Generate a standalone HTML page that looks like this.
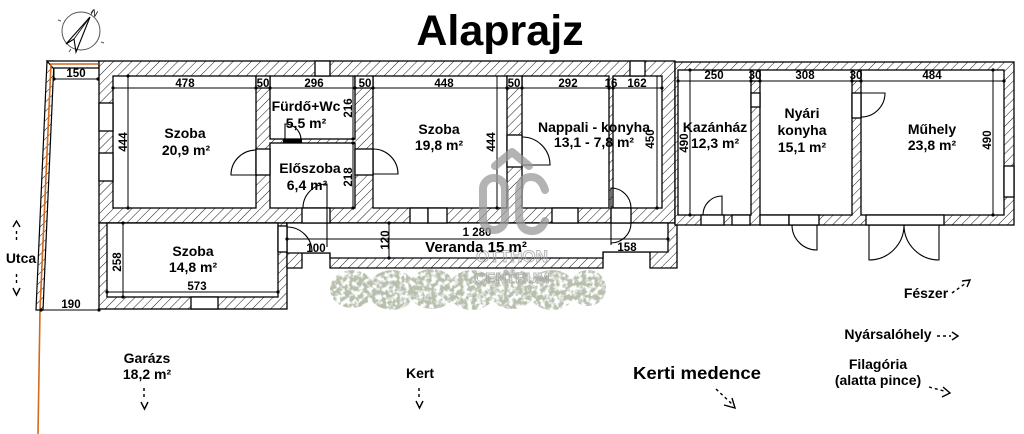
<!DOCTYPE html>
<html><head><meta charset="utf-8"><style>
html,body{margin:0;padding:0;background:#fff;}
svg{display:block;}
text{font-family:"Liberation Sans",sans-serif;font-weight:bold;fill:#000;}
</style></head><body>
<svg width="1024" height="434" viewBox="0 0 1024 434" xmlns="http://www.w3.org/2000/svg">
<defs>
<pattern id="h" patternUnits="userSpaceOnUse" width="6.5" height="6.5" patternTransform="rotate(45)">
<rect width="6.5" height="6.5" fill="#fff"/>
<line x1="0" y1="0" x2="0" y2="6.5" stroke="#000" stroke-width="0.9"/>
</pattern>
<filter id="bf" filterUnits="userSpaceOnUse" x="320" y="260" width="300" height="60">
<feTurbulence type="fractalNoise" baseFrequency="0.22" numOctaves="2" seed="4" result="n"/>
<feColorMatrix in="n" type="matrix" values="0 0 0 0 0.47  0 0 0 0 0.52  0 0 0 0 0.42  4.5 0 0 0 -1.6" result="c"/>
<feComposite in="c" in2="SourceGraphic" operator="in"/>
</filter>
</defs>

<!-- Title -->
<text x="500" y="45" font-size="43" text-anchor="middle">Alaprajz</text>

<!-- Compass -->
<g stroke="#555" stroke-width="1" fill="none">
<circle cx="81" cy="31" r="19"/>
<line x1="61" y1="21" x2="58" y2="20"/>
<line x1="101" y1="42" x2="104" y2="43"/>
<line x1="71" y1="49" x2="69" y2="52"/>
<line x1="91" y1="13" x2="93" y2="10"/>
</g>
<polygon points="90,17 66,44 74,39 76,52" fill="none" stroke="#000" stroke-width="1.1"/>
<line x1="90" y1="17" x2="74" y2="39" stroke="#000" stroke-width="0.8"/>
<text x="0" y="0" font-size="9" transform="translate(90,14) rotate(30)" style="font-weight:normal">N</text>

<!-- Garage walls -->
<polygon points="47,61 54,61 43,310 36,310" fill="url(#h)" stroke="#000" stroke-width="1.2"/>
<polygon points="47,61 99,61 99,68 53,68" fill="#fff" stroke="#000" stroke-width="1.2"/>
<polyline points="98,64 51,64 40,310 38,434" fill="none" stroke="#d2691e" stroke-width="1.6"/>

<!-- Main house wall mass -->
<rect x="99" y="61" width="576" height="162" fill="url(#h)" stroke="#000" stroke-width="1.3"/>
<rect x="99" y="223" width="188" height="86" fill="url(#h)" stroke="#000" stroke-width="1.3"/>
<polygon points="287,223 677,223 677,268 650,268 650,252 603,252 603,268 330,268 330,253 302,253 302,268 287,268" fill="url(#h)" stroke="#000" stroke-width="1.3"/>
<!-- Second building -->
<rect x="675" y="62" width="339" height="163" fill="url(#h)" stroke="#000" stroke-width="1.3"/>

<!-- Rooms -->
<g fill="#fff" stroke="#000" stroke-width="1.3">
<rect x="113" y="76" width="143" height="132"/>
<rect x="270" y="76" width="85" height="63"/>
<rect x="270" y="143" width="85" height="65"/>
<rect x="373" y="76" width="134" height="132"/>
<rect x="522" y="76" width="87" height="132"/>
<rect x="613" y="76" width="49" height="132"/>
<rect x="107" y="223" width="171" height="74"/>
<polygon points="287,223 668,223 668,252 603,252 603,258 330,258 330,253 302,253 287,253"/>
<rect x="678" y="70" width="73" height="145"/>
<rect x="760" y="70" width="92" height="145"/>
<rect x="861" y="70" width="143" height="145"/>
<rect x="256" y="76" width="14" height="12"/>
<rect x="355" y="76" width="18" height="12"/>
<rect x="507" y="76" width="15" height="12"/>
<rect x="751" y="70" width="9" height="11"/>
<rect x="852" y="70" width="9" height="11"/>
<rect x="99" y="103" width="14" height="28"/>
<rect x="99" y="153" width="14" height="28"/>
<rect x="315" y="61" width="15" height="15"/>
<rect x="630" y="61" width="15" height="15"/>
<rect x="256" y="149" width="14" height="26"/>
<rect x="355" y="149" width="18" height="26"/>
<rect x="507" y="135" width="15" height="32"/>
<rect x="302" y="208" width="28" height="15"/>
<rect x="410" y="208" width="18" height="15"/>
<rect x="428" y="208" width="19" height="15"/>
<rect x="552" y="208" width="26" height="15"/>
<rect x="611" y="208" width="20" height="15"/>
<rect x="278" y="226" width="9" height="26"/>
<rect x="191" y="297" width="27" height="12"/>
<rect x="701" y="215" width="23" height="10"/>
<rect x="732" y="215" width="18" height="10"/>
<rect x="751" y="93" width="9" height="14"/>
<rect x="760" y="215" width="29" height="10"/>
<rect x="789" y="215" width="30" height="10"/>
<rect x="852" y="93" width="9" height="25"/>
<rect x="866" y="215" width="78" height="10"/>
<rect x="1004" y="166" width="10" height="31"/>
</g>
<rect x="283" y="139" width="19" height="4" fill="#000"/>

<!-- Door swings -->
<g fill="none" stroke="#000" stroke-width="1.1">
<path d="M256,150 A25,25 0 0 0 231,175 L256,175"/>
<path d="M285,139 L285,124 A16,16 0 0 1 301,139"/>
<path d="M303,208 A24,24 0 0 1 327,184 L327,247"/>
<path d="M373,149 A25,25 0 0 1 398,174 L373,174"/>
<path d="M522,137 A28,28 0 0 1 550,165 L522,165"/>
<path d="M611,245 L611,188 A20,20 0 0 1 631,208"/>
<path d="M631,223 A20,20 0 0 1 611,243"/>
<path d="M287,227 A25,25 0 0 1 312,252"/>
<path d="M703,215 A19,19 0 0 1 722,196 L722,215"/>
<path d="M817,225 L817,250 A25,25 0 0 1 792,225"/>
<path d="M861,93 L885,93 A24,24 0 0 1 861,117"/>
<path d="M869,225 L869,260 A35,35 0 0 0 904,225"/>
<path d="M939,225 L939,260 A35,35 0 0 1 904,225"/>
</g>

<!-- Dimension lines -->
<g stroke="#000" stroke-width="1" fill="none">
<line x1="113" y1="88" x2="662" y2="88"/>
<line x1="678" y1="81" x2="1004" y2="81"/>
<line x1="54" y1="79" x2="98" y2="79"/>
<line x1="54" y1="68" x2="54" y2="79"/>
<line x1="41" y1="310" x2="99" y2="310"/>
<line x1="128" y1="76" x2="128" y2="208"/>
<line x1="353" y1="76" x2="353" y2="139"/>
<line x1="353" y1="143" x2="353" y2="208"/>
<line x1="497" y1="76" x2="497" y2="208"/>
<line x1="657" y1="76" x2="657" y2="208"/>
<line x1="690" y1="70" x2="690" y2="215"/>
<line x1="993" y1="70" x2="993" y2="215"/>
<line x1="123" y1="223" x2="123" y2="297"/>
<line x1="107" y1="292" x2="278" y2="292"/>
<line x1="389" y1="223" x2="389" y2="258"/>
<line x1="287" y1="239" x2="668" y2="239"/>
</g>
<g fill="#000">
<circle cx="113" cy="88" r="1.6"/><circle cx="256" cy="88" r="1.6"/><circle cx="270" cy="88" r="1.6"/>
<circle cx="355" cy="88" r="1.6"/><circle cx="373" cy="88" r="1.6"/><circle cx="507" cy="88" r="1.6"/>
<circle cx="522" cy="88" r="1.6"/><circle cx="609" cy="88" r="1.6"/><circle cx="613" cy="88" r="1.6"/>
<circle cx="662" cy="88" r="1.6"/>
<circle cx="678" cy="81" r="1.6"/><circle cx="751" cy="81" r="1.6"/><circle cx="760" cy="81" r="1.6"/>
<circle cx="852" cy="81" r="1.6"/><circle cx="861" cy="81" r="1.6"/><circle cx="1004" cy="81" r="1.6"/>
<circle cx="54" cy="79" r="1.6"/><circle cx="98" cy="79" r="1.6"/>
<circle cx="41" cy="310" r="1.6"/><circle cx="99" cy="310" r="1.6"/>
<circle cx="128" cy="76" r="1.6"/><circle cx="128" cy="208" r="1.6"/>
<circle cx="353" cy="139" r="1.6"/><circle cx="353" cy="143" r="1.6"/><circle cx="353" cy="208" r="1.6"/>
<circle cx="497" cy="208" r="1.6"/><circle cx="657" cy="208" r="1.6"/>
<circle cx="690" cy="70" r="1.6"/><circle cx="690" cy="215" r="1.6"/>
<circle cx="993" cy="70" r="1.6"/><circle cx="993" cy="215" r="1.6"/>
<circle cx="123" cy="223" r="1.6"/><circle cx="123" cy="297" r="1.6"/>
<circle cx="107" cy="292" r="1.6"/><circle cx="278" cy="292" r="1.6"/>
<circle cx="389" cy="223" r="1.6"/><circle cx="389" cy="258" r="1.6"/>
<circle cx="287" cy="239" r="1.6"/><circle cx="668" cy="239" r="1.6"/>
</g>

<!-- Dimension texts -->
<g font-size="11.5" text-anchor="middle">
<text x="76" y="77">150</text>
<text x="185" y="87">478</text>
<text x="263" y="87">50</text>
<text x="314" y="87">296</text>
<text x="365" y="87">50</text>
<text x="444" y="87">448</text>
<text x="514" y="87">50</text>
<text x="568" y="87">292</text>
<text x="611" y="87">16</text>
<text x="637" y="87">162</text>
<text x="714" y="79">250</text>
<text x="755" y="79">30</text>
<text x="805" y="79">308</text>
<text x="856" y="79">30</text>
<text x="932" y="79">484</text>
<text x="71" y="308">190</text>
<text x="197" y="290">573</text>
<text x="477" y="236">1 280</text>
<text x="316" y="252">100</text>
<text x="627" y="251">158</text>
<text transform="translate(123,142) rotate(-90)" y="4">444</text>
<text transform="translate(348,108) rotate(-90)" y="4">216</text>
<text transform="translate(348,177) rotate(-90)" y="4">218</text>
<text transform="translate(491,142) rotate(-90)" y="4">444</text>
<text transform="translate(650,139) rotate(-90)" y="4">450</text>
<text transform="translate(684,143) rotate(-90)" y="4">490</text>
<text transform="translate(987,140) rotate(-90)" y="4">490</text>
<text transform="translate(117,262) rotate(-90)" y="4">258</text>
<text transform="translate(385,240) rotate(-90)" y="4">120</text>
</g>

<!-- Bushes -->
<g filter="url(#bf)" fill="#000">
<ellipse cx="352" cy="289" rx="22" ry="19"/>
<ellipse cx="392" cy="290" rx="24" ry="20"/>
<ellipse cx="432" cy="289" rx="24" ry="20"/>
<ellipse cx="472" cy="290" rx="24" ry="20"/>
<ellipse cx="512" cy="289" rx="24" ry="20"/>
<ellipse cx="552" cy="290" rx="24" ry="20"/>
<ellipse cx="588" cy="288" rx="18" ry="18"/>
</g>

<!-- Watermark -->
<g fill="none" stroke="#9a9a9a" stroke-width="8" opacity="0.75" stroke-linecap="round" stroke-linejoin="round">
<polyline points="495,166 512,152 529,166"/>
<rect x="483" y="178" width="22" height="52" rx="11"/>
<path d="M545,190 Q541,177 531,177 Q519,177 519,194 L519,213 Q519,231 532,231 Q541,231 545,221"/>
</g>
<g font-size="17" text-anchor="middle" opacity="0.8">
<text x="512" y="262" style="fill:none;stroke:#a5a5a5;stroke-width:1">OTTHON</text>
<text x="512" y="283" font-size="15" style="fill:none;stroke:#a5a5a5;stroke-width:1">CENTRUM</text>
</g>

<!-- Room labels -->
<g font-size="14" text-anchor="middle">
<text x="185" y="138">Szoba</text>
<text x="186" y="155">20,9 m²</text>
<text x="306" y="111">Fürdő+Wc</text>
<text x="306" y="128">5,5 m²</text>
<text x="310" y="173">Előszoba</text>
<text x="307" y="190">6,4 m²</text>
<text x="439" y="134">Szoba</text>
<text x="439" y="150">19,8 m²</text>
<text x="594" y="132">Nappali - konyha</text>
<text x="594" y="147">13,1 - 7,8 m²</text>
<text x="715" y="132">Kazánház</text>
<text x="715" y="148">12,3 m²</text>
<text x="802" y="118">Nyári</text>
<text x="802" y="135">konyha</text>
<text x="802" y="152">15,1 m²</text>
<text x="932" y="134">Műhely</text>
<text x="932" y="150">23,8 m²</text>
<text x="193" y="256">Szoba</text>
<text x="193" y="272">14,8 m²</text>
<text x="476" y="252" font-size="15">Veranda 15 m²</text>
<text x="21" y="263">Utca</text>
<text x="147" y="363">Garázs</text>
<text x="147" y="379">18,2 m²</text>
<text x="420" y="378">Kert</text>
<text x="697" y="379" font-size="17.5" textLength="128" lengthAdjust="spacingAndGlyphs">Kerti medence</text>
<text x="926" y="298">Fészer</text>
<text x="888" y="339">Nyársalóhely</text>
<text x="878" y="369">Filagória</text>
<text x="878" y="385">(alatta pince)</text>
</g>

<!-- Arrows -->
<g fill="none" stroke="#000" stroke-width="1.4">
<polyline points="13,227 16.5,221 20,227"/>
<line x1="16.5" y1="231" x2="16.5" y2="242" stroke-dasharray="3,3"/>
<line x1="16.5" y1="274" x2="16.5" y2="285" stroke-dasharray="3,3"/>
<polyline points="13,288 16.5,295 20,288"/>
<line x1="144" y1="388" x2="144" y2="399" stroke-dasharray="3,3"/>
<polyline points="141,402 144.5,409 148,402"/>
<line x1="419" y1="388" x2="419" y2="399" stroke-dasharray="3,3"/>
<polyline points="416,401 419.5,408 423,401"/>
<line x1="716" y1="389" x2="732" y2="404" stroke-dasharray="3,3"/>
<polyline points="724,405 735,408 732,398"/>
<line x1="952" y1="293" x2="966" y2="283" stroke-dasharray="3,3"/>
<polyline points="962,281 970,280 967,287"/>
<line x1="937" y1="336" x2="951" y2="336" stroke-dasharray="3,3"/>
<polyline points="952,332 958,336 952,340"/>
<line x1="929" y1="387" x2="944" y2="391" stroke-dasharray="3,3"/>
<polyline points="943,387 950,393 942,397"/>
</g>
</svg>
</body></html>
